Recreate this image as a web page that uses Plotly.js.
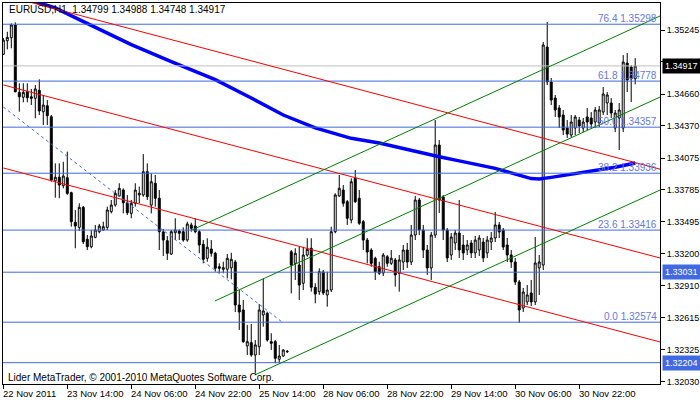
<!DOCTYPE html>
<html>
<head>
<meta charset="utf-8">
<script src="https://cdn.plot.ly/plotly-3.0.1.min.js"></script>
<style>html,body{margin:0;padding:0;background:#fff;}#chart{width:700px;height:402px;}</style>
</head>
<body>
<div id="chart"></div>
<script>
// ---- Candle data (EURUSD H1), one entry per bar ----
const openP = [1.35023,1.35147,1.35174,1.35291,1.34675,1.34630,1.34681,1.34635,1.34621,1.34694,
1.34498,1.34553,1.34452,1.33867,1.33899,1.33822,1.33895,1.33758,1.33487,1.33441,
1.33624,1.33332,1.33264,1.33350,1.33401,1.33417,1.33441,1.33584,1.33645,1.33728,
1.33782,1.33666,1.33569,1.33661,1.33737,1.33737,1.33950,1.33645,1.33844,1.33707,
1.33399,1.33319,1.33197,1.33392,1.33408,1.33401,1.33325,1.33463,1.33453,1.33401,
1.33286,1.33158,1.33243,1.33204,1.33081,1.33058,1.33058,1.33070,1.33124,1.32731,
1.32686,1.32357,1.32387,1.32274,1.32350,1.32640,1.32655,1.32396,1.32396,1.32235,
1.32265,1.32303,1.33218,1.33112,1.33097,1.32930,1.33188,1.33250,1.32893,1.32853,
1.33033,1.32823,1.32868,1.33401,1.33728,1.33782,1.33676,1.33508,1.33889,1.33707,
1.33493,1.33325,1.33234,1.33158,1.33081,1.33024,1.33173,1.33112,1.33143,1.33021,
1.33124,1.33234,1.33124,1.33371,1.33691,1.33417,1.33234,1.33070,1.33371,1.34194,
1.33718,1.33417,1.33188,1.33298,1.33389,1.33280,1.33234,1.33298,1.33207,1.33234,
1.33307,1.33207,1.33307,1.33344,1.33463,1.33417,1.33280,1.33188,1.33124,1.32942,
1.32704,1.32759,1.32841,1.32759,1.33070,1.33097,1.35089,1.34770,1.34623,1.34532,
1.34468,1.34349,1.34285,1.34349,1.34422,1.34349,1.34450,1.34441,1.34404,1.34395,
1.34495,1.34578,1.34578,1.34349,1.34441,1.34349,1.34943,1.34907,1.34799];
const highP = [1.35172,1.35229,1.35306,1.35315,1.34758,1.34758,1.34758,1.34706,1.34742,1.34794,
1.34651,1.34605,1.34468,1.34026,1.34026,1.34041,1.34133,1.33767,1.33600,1.33661,
1.33636,1.33371,1.33417,1.33463,1.33472,1.33493,1.33630,1.33691,1.33782,1.33844,
1.33798,1.33737,1.33691,1.33844,1.33813,1.34111,1.34026,1.33935,1.33920,1.33782,
1.33426,1.33362,1.33417,1.33524,1.33423,1.33441,1.33493,1.33484,1.33524,1.33417,
1.33325,1.33341,1.33325,1.33218,1.33112,1.33127,1.33197,1.33209,1.33143,1.32868,
1.32777,1.32549,1.32558,1.32411,1.32740,1.32975,1.32670,1.32473,1.32411,1.32366,
1.32326,1.32320,1.33234,1.33250,1.33264,1.33264,1.33341,1.33341,1.32930,1.33067,
1.33051,1.33036,1.33447,1.33752,1.33920,1.33828,1.33691,1.33889,1.33965,1.33782,
1.33508,1.33344,1.33250,1.33173,1.33127,1.33207,1.33188,1.33234,1.33161,1.33188,
1.33280,1.33298,1.33463,1.33728,1.33709,1.33463,1.33280,1.33399,1.34422,1.34239,
1.33737,1.33435,1.33389,1.33417,1.33691,1.33371,1.33325,1.33325,1.33362,1.33371,
1.33344,1.33362,1.33399,1.33581,1.33490,1.33435,1.33344,1.33234,1.33161,1.32960,
1.32887,1.32914,1.32960,1.33353,1.33188,1.35135,1.35318,1.34806,1.34651,1.34559,
1.34514,1.34422,1.34468,1.34468,1.34450,1.34441,1.34532,1.34495,1.34541,1.34550,
1.34724,1.34678,1.34623,1.34514,1.34578,1.35016,1.35035,1.34925,1.34988];
const lowP = [1.35016,1.35068,1.35078,1.34675,1.34498,1.34584,1.34584,1.34559,1.34438,1.34468,
1.34377,1.34377,1.33858,1.33712,1.33707,1.33798,1.33737,1.33447,1.33250,1.33408,
1.33289,1.33234,1.33250,1.33341,1.33387,1.33410,1.33417,1.33569,1.33630,1.33721,
1.33569,1.33554,1.33524,1.33630,1.33661,1.33721,1.33691,1.33569,1.33630,1.33234,
1.33179,1.33143,1.33188,1.33325,1.33325,1.33310,1.33310,1.33401,1.33387,1.33204,
1.33112,1.33127,1.33173,1.33036,1.33021,1.33021,1.32975,1.32966,1.32667,1.32503,
1.32384,1.32274,1.32259,1.32107,1.32274,1.32533,1.32396,1.32320,1.32198,1.32198,
1.32259,1.32293,1.32838,1.32960,1.32777,1.32868,1.33173,1.32853,1.32747,1.32823,
1.32823,1.32716,1.32850,1.33387,1.33721,1.33630,1.33463,1.33478,1.33664,1.33463,
1.33234,1.33112,1.33081,1.32960,1.33006,1.32996,1.33081,1.33097,1.32899,1.32853,
1.33051,1.33070,1.33097,1.33325,1.33371,1.33161,1.33006,1.32960,1.33344,1.33572,
1.33325,1.33124,1.33143,1.33234,1.33161,1.33143,1.33188,1.33161,1.33161,1.33179,
1.33124,1.33161,1.33234,1.33307,1.33344,1.33234,1.33124,1.33070,1.32914,1.32567,
1.32667,1.32731,1.32722,1.32731,1.32823,1.33051,1.34742,1.34559,1.34450,1.34349,
1.34285,1.34258,1.34267,1.34285,1.34303,1.34312,1.34331,1.34349,1.34349,1.34358,
1.34468,1.34468,1.34441,1.34312,1.34148,1.34312,1.34678,1.34587,1.34748];
const closeP = [1.35153,1.35178,1.35291,1.34681,1.34635,1.34675,1.34626,1.34621,1.34706,1.34505,
1.34559,1.34462,1.33874,1.33899,1.33828,1.33910,1.33752,1.33493,1.33453,1.33624,
1.33310,1.33264,1.33362,1.33417,1.33453,1.33447,1.33600,1.33645,1.33752,1.33798,
1.33666,1.33575,1.33661,1.33782,1.33752,1.33950,1.33721,1.33858,1.33707,1.33401,
1.33325,1.33204,1.33401,1.33417,1.33387,1.33325,1.33472,1.33432,1.33401,1.33280,
1.33149,1.33259,1.33204,1.33067,1.33067,1.33072,1.33158,1.33149,1.32731,1.32667,
1.32396,1.32396,1.32274,1.32366,1.32686,1.32677,1.32411,1.32381,1.32244,1.32265,
1.32320,1.32307,1.33097,1.33204,1.32914,1.33188,1.33240,1.32893,1.32832,1.33036,
1.32841,1.32868,1.33401,1.33737,1.33798,1.33661,1.33524,1.33858,1.33676,1.33478,
1.33325,1.33216,1.33112,1.33036,1.33021,1.33188,1.33112,1.33158,1.33006,1.33143,
1.33234,1.33124,1.33371,1.33691,1.33417,1.33234,1.33070,1.33371,1.34194,1.33691,
1.33417,1.33161,1.33353,1.33389,1.33234,1.33207,1.33280,1.33207,1.33325,1.33344,
1.33161,1.33325,1.33344,1.33463,1.33399,1.33261,1.33188,1.33124,1.32942,1.32686,
1.32850,1.32823,1.32759,1.33115,1.33124,1.35108,1.34770,1.34605,1.34514,1.34450,
1.34331,1.34294,1.34404,1.34450,1.34367,1.34404,1.34404,1.34386,1.34514,1.34514,
1.34660,1.34651,1.34486,1.34486,1.34514,1.34952,1.34788,1.34799,1.34917];

// ---- Moving average (read at selected bars) ----
const maBar = [7,13,19,32,42,53,62,70,78,87,94,103,109,114,123,132,134,137,145,153,158];
const maVal = [1.35514,1.35448,1.35340,1.35111,1.34957,1.34791,1.34623,1.34468,1.34351,1.34255,
1.34212,1.34133,1.34087,1.34049,1.33980,1.33887,1.33883,1.33898,1.33947,1.33990,1.34029];

// ---- Time axis labels ----
const timeTickBars = [0,16,32,48,64,80,96,112,128,144];
const timeTickText = ["22 Nov 2011","23 Nov 14:00","24 Nov 06:00","24 Nov 22:00","25 Nov 14:00",
"28 Nov 06:00","28 Nov 22:00","29 Nov 14:00","30 Nov 06:00","30 Nov 22:00"];

// ---- Price axis labels ----
const priceTicks = [1.35245,1.34955,1.34660,1.34370,1.34075,1.33785,1.33495,1.33200,1.32910,1.32615,1.32325,1.32030];

// ---- Fibonacci levels ----
const fibNames = ["0.0","23.6","38.2","50.0","61.8","76.4"];
const fibPrices = [1.32574,1.33416,1.33936,1.34357,1.34778,1.35298];

// ---- Other horizontal lines ----
const extraLevels = [1.33031,1.32204];
const bidPrice = 1.34917;

// ---- Trend lines: [bar0, price0, bar1, price1] ----
const redLines = [[0,1.35564,164.2,1.33973],[0,1.34743,164.2,1.33161],[0,1.33984,164.2,1.32393]];
const greenLines = [[47.2,1.33417,164.2,1.35373],[52.9,1.32768,164.2,1.34632],[62.9,1.32092,164.2,1.33782]];
const dashLine = [0,1.34541,69.7,1.32576];

const header = "EURUSD,H1\u00a0\u00a01.34799 1.34988 1.34748 1.34917";
const footer = "Lider MetaTrader, \u00a9 2001-2010 MetaQuotes Software Corp.";

const bars = openP.map((_, i) => i);
const FONT = "Liberation Sans, Arial, sans-serif";
const LEVEL_BLUE = "#4169E1";

const traces = [
  {
    type: "scatter", mode: "lines", x: maBar, y: maVal,
    line: {color: "#0000FF", width: 3.5}, hoverinfo: "skip", showlegend: false
  },
  {
    type: "candlestick", x: bars, open: openP, high: highP, low: lowP, close: closeP,
    increasing: {fillcolor: "#FFFFFF", line: {color: "#000000", width: 1}},
    decreasing: {fillcolor: "#000000", line: {color: "#000000", width: 1}},
    whiskerwidth: 0, hoverinfo: "skip", showlegend: false
  }
];

const shapes = [];
const hline = (p, color) => ({type: "line", xref: "paper", x0: 0, x1: 1, yref: "y", y0: p, y1: p,
  line: {color: color, width: 1}, layer: "above"});
shapes.push(hline(bidPrice, "#C0C0C0"));
fibPrices.forEach(p => shapes.push(hline(p, LEVEL_BLUE)));
extraLevels.forEach(p => shapes.push(hline(p, LEVEL_BLUE)));
redLines.forEach(l => shapes.push({type: "line", xref: "x", yref: "y", x0: l[0], y0: l[1], x1: l[2], y1: l[3],
  line: {color: "#FF0000", width: 1}, layer: "above"}));
greenLines.forEach(l => shapes.push({type: "line", xref: "x", yref: "y", x0: l[0], y0: l[1], x1: l[2], y1: l[3],
  line: {color: "#008000", width: 1}, layer: "above"}));
shapes.push({type: "line", xref: "x", yref: "y", x0: dashLine[0], y0: dashLine[1], x1: dashLine[2], y1: dashLine[3],
  line: {color: LEVEL_BLUE, width: 1, dash: "dot"}, layer: "above"});

const annotations = [];
fibNames.forEach((n, k) => annotations.push({
  xref: "paper", x: 0.997, xanchor: "right", yref: "y", y: fibPrices[k], yanchor: "bottom", yshift: -1,
  text: n + " " + fibPrices[k].toFixed(5), showarrow: false, borderpad: 0,
  font: {family: FONT, size: 10, color: "#6478E0"}
}));
annotations.push({xref: "paper", x: 1.003, xanchor: "left", yref: "y", y: bidPrice, yanchor: "middle",
  text: bidPrice.toFixed(5), showarrow: false, bgcolor: "#000000", borderpad: 2,
  font: {family: FONT, size: 9, color: "#FFFFFF"}});
extraLevels.forEach(p => annotations.push({xref: "paper", x: 1.003, xanchor: "left", yref: "y", y: p, yanchor: "middle",
  text: p.toFixed(5), showarrow: false, bgcolor: LEVEL_BLUE, borderpad: 2,
  font: {family: FONT, size: 9, color: "#FFFFFF"}}));
annotations.push({xref: "paper", x: 0.006, xanchor: "left", yref: "paper", y: 0.982, yanchor: "middle",
  text: header, showarrow: false, font: {family: FONT, size: 10, color: "#000000"}});
annotations.push({xref: "paper", x: 0.0046, xanchor: "left", yref: "paper", y: 0.018, yanchor: "middle",
  text: footer, showarrow: false, font: {family: FONT, size: 10, color: "#000000"}});
// time labels, left-aligned at their tick like the terminal draws them
timeTickBars.forEach((b, k) => annotations.push({xref: "x", x: b, xanchor: "left", xshift: -1,
  yref: "paper", y: 0, yanchor: "top", yshift: -3, borderpad: 0,
  text: timeTickText[k], showarrow: false, font: {family: FONT, size: 9.5, color: "#000000"}}));

const layout = {
  width: 700, height: 402,
  margin: {l: 3, r: 40, t: 3, b: 18, pad: 0},
  paper_bgcolor: "#FFFFFF", plot_bgcolor: "#FFFFFF",
  font: {family: FONT, size: 10, color: "#000000"},
  showlegend: false,
  xaxis: {
    range: [-0.075, 164.2], rangeslider: {visible: false},
    tickmode: "array", tickvals: timeTickBars, showticklabels: false,
    ticks: "outside", ticklen: 4, tickcolor: "#000000",
    showgrid: false, zeroline: false, showline: true, mirror: true, linecolor: "#000000", linewidth: 1,
    fixedrange: true
  },
  yaxis: {
    side: "right", range: [1.32009, 1.35492],
    tickmode: "array", tickvals: priceTicks, ticktext: priceTicks.map(v => v.toFixed(5)),
    ticks: "outside", ticklen: 4, tickcolor: "#000000",
    showgrid: false, zeroline: false, showline: true, mirror: true, linecolor: "#000000", linewidth: 1,
    tickfont: {family: FONT, size: 9, color: "#000000"}, fixedrange: true
  },
  shapes: shapes,
  annotations: annotations
};

Plotly.newPlot("chart", traces, layout, {displayModeBar: false, staticPlot: true});
</script>
</body>
</html>
